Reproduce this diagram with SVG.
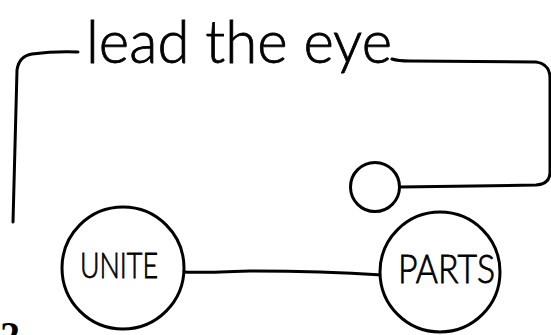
<svg xmlns="http://www.w3.org/2000/svg" width="551" height="335" viewBox="0 0 551 335">
<style>
.ln{fill:none;stroke:#000;stroke-width:3;stroke-linecap:round;stroke-linejoin:round}
.nd{fill:#fff;stroke:#000;stroke-width:3}
.tx{font-family:Lato,"Liberation Sans",Arial,sans-serif;font-weight:300;fill:#000;stroke:#000;stroke-width:0.8}
</style>
<rect width="551" height="335" fill="#fff"/>
<g id="connectors">
<path class="ln" d="M13,222 L17,70 Q19,56 32,54 Q55,51 78,52"/>
<path class="ln" d="M392,59 Q398,61 410,61 L536,62 Q550,64 550,78 L550,172 Q550,184 536,185 L400,187"/>
<path class="ln" d="M185,272 Q200,273 250,271 Q320,271 382,275"/>
</g>
<g id="label">
<text class="tx" x="86" y="63" font-size="60" textLength="306" lengthAdjust="spacingAndGlyphs">lead the eye</text>
</g>
<g id="eye">
<circle class="nd" cx="375" cy="187" r="24.5"/>
</g>
<g id="unite">
<circle class="nd" cx="123" cy="268" r="61"/>
<text class="tx" x="80" y="278" font-size="36" textLength="78" lengthAdjust="spacingAndGlyphs">UNITE</text>
</g>
<g id="parts">
<circle class="nd" cx="440" cy="272" r="60"/>
<text class="tx" x="398" y="283" font-size="39" textLength="97" lengthAdjust="spacingAndGlyphs">PARTS</text>
</g>
<g id="pagenum">
<text x="0" y="349" font-family="Liberation Serif,serif" font-weight="bold" font-size="40" fill="#000">2</text>
</g>
</svg>
